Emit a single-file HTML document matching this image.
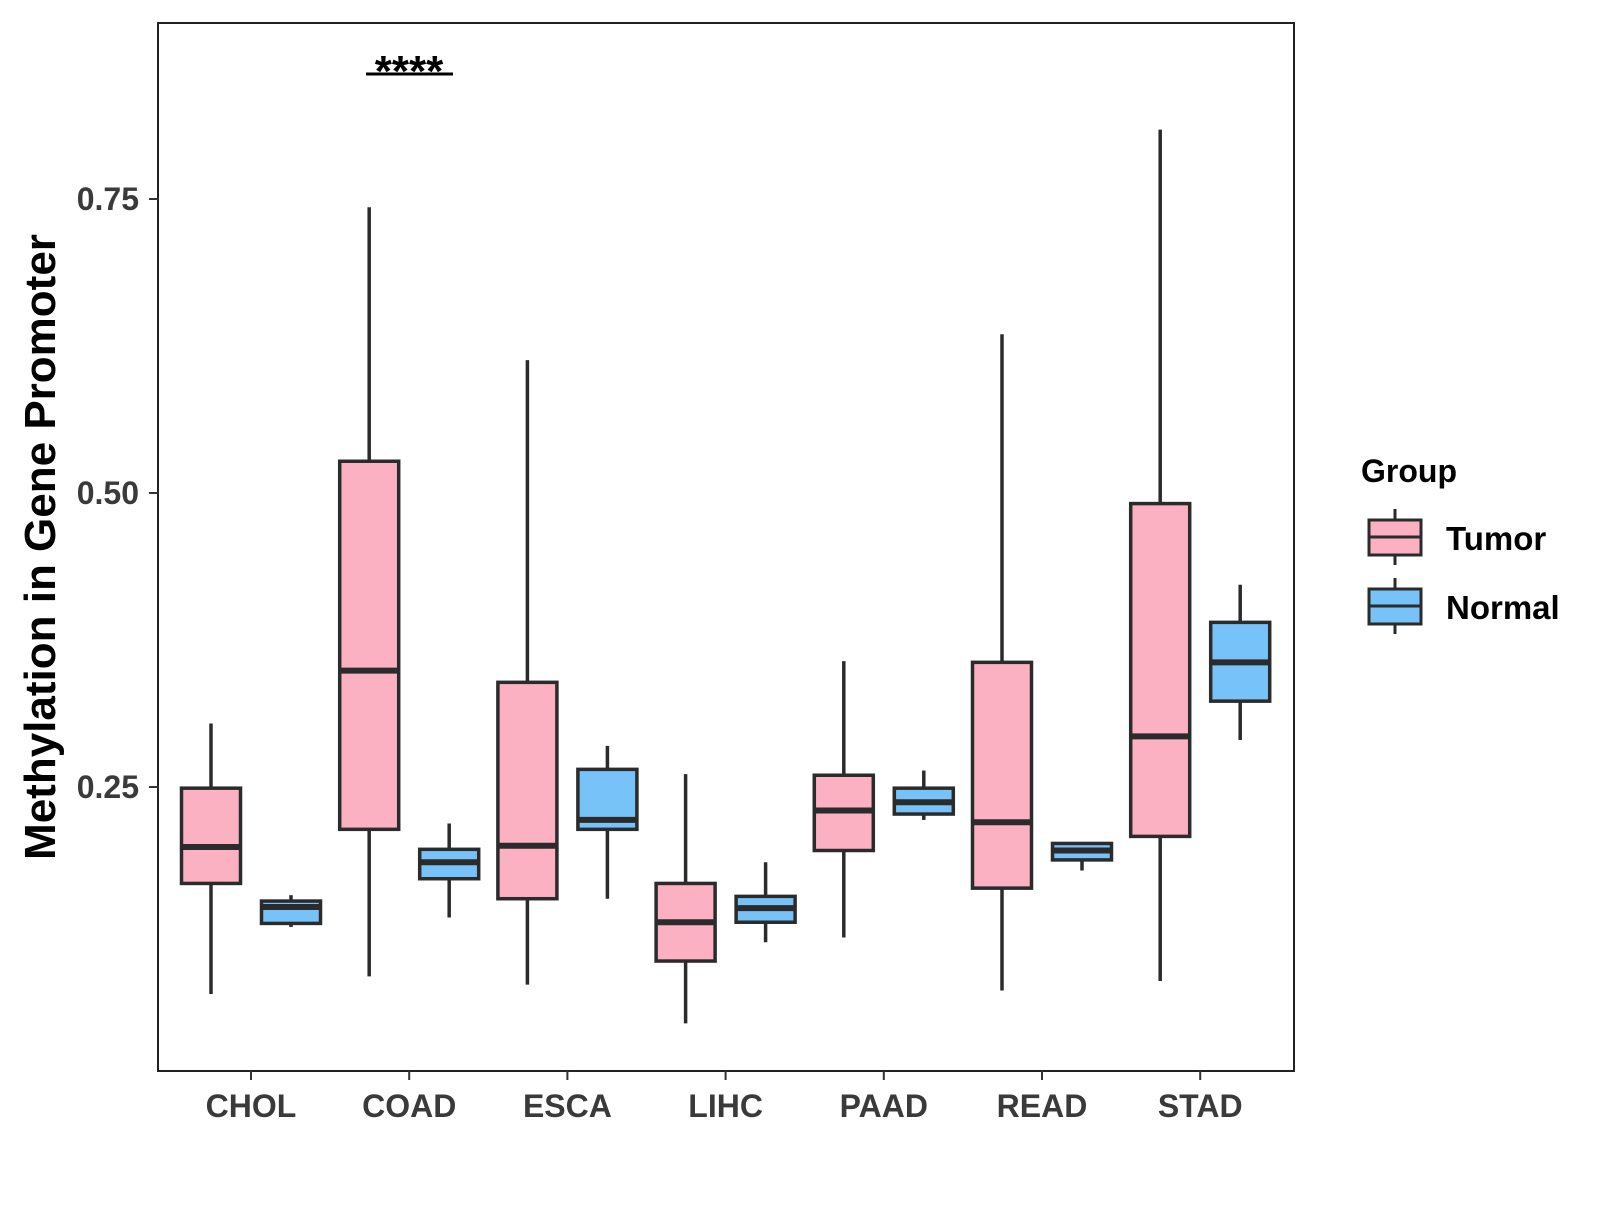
<!DOCTYPE html>
<html><head><meta charset="utf-8"><style>
body{margin:0;background:#fff}
svg text{font-family:"Liberation Sans",Arial,sans-serif;font-weight:bold}
</style></head><body>
<svg id="chart" width="1600" height="1200" xmlns="http://www.w3.org/2000/svg">
<rect x="158" y="23" width="1136" height="1048" fill="none" stroke="#222" stroke-width="2"/>
<g id="marks"></g>
<g id="axes"></g>
<text x="0" y="0" transform="translate(55,547) rotate(-90)" text-anchor="middle" font-size="44" fill="#000">Methylation in Gene Promoter</text>
<g>
<line x1="366" y1="74" x2="453" y2="74" stroke="#000" stroke-width="3"/>
<text x="409" y="86" text-anchor="middle" font-size="44" fill="#000">****</text>
</g>
<g>
<text x="1361" y="482" font-size="32" fill="#000">Group</text>
<g>
<line x1="1395" y1="509" x2="1395" y2="565" stroke="#2b2b2b" stroke-width="3"/>
<rect x="1369" y="520" width="52" height="35" fill="#fcb1c3" stroke="#2b2b2b" stroke-width="3"/>
<line x1="1369" y1="537" x2="1421" y2="537" stroke="#2b2b2b" stroke-width="3"/>
<text x="1446" y="550" font-size="33" fill="#000">Tumor</text>
</g>
<g>
<line x1="1395" y1="578" x2="1395" y2="634" stroke="#2b2b2b" stroke-width="3"/>
<rect x="1369" y="589" width="52" height="35" fill="#76c2f9" stroke="#2b2b2b" stroke-width="3"/>
<line x1="1369" y1="606" x2="1421" y2="606" stroke="#2b2b2b" stroke-width="3"/>
<text x="1446" y="619" font-size="33" fill="#000">Normal</text>
</g>
</g>
</svg>
<script>
const categories=["CHOL","COAD","ESCA","LIHC","PAAD","READ","STAD"];
// [min, q1, median, q3, max]
const tumorStats=[[0.074,0.168,0.199,0.249,0.304],[0.089,0.214,0.349,0.527,0.743],[0.082,0.155,0.200,0.339,0.613],[0.049,0.102,0.135,0.168,0.261],[0.122,0.196,0.230,0.260,0.357],[0.077,0.164,0.220,0.356,0.635],[0.085,0.208,0.293,0.491,0.809]];
const normalStats=[[0.131,0.134,0.148,0.153,0.158],[0.139,0.172,0.186,0.197,0.219],[0.155,0.214,0.222,0.265,0.285],[0.118,0.135,0.147,0.157,0.186],[0.222,0.227,0.237,0.249,0.264],[0.179,0.188,0.196,0.202,0.203],[0.290,0.323,0.356,0.390,0.422]];
const yTicks=[0.25,0.50,0.75];
const yTickLabels=["0.25","0.50","0.75"];
const NS="http://www.w3.org/2000/svg";
const yScale=v=>787-(v-0.25)*1176;
const xScale=i=>251+i*158.2;
const bw=59, off=40;
const marks=document.getElementById('marks'), axes=document.getElementById('axes');
function mk(tag,attrs,parent){const e=document.createElementNS(NS,tag);for(const k in attrs)e.setAttribute(k,attrs[k]);parent.appendChild(e);return e;}
function drawBox(s,cx,fill,name){
  const g=mk('g',{},marks);
  
  
  mk('line',{x1:cx,x2:cx,y1:yScale(s[4]),y2:yScale(s[0]),stroke:'#2b2b2b','stroke-width':3.5},g);
  mk('rect',{x:cx-bw/2,y:yScale(s[3]),width:bw,height:yScale(s[1])-yScale(s[3]),fill:fill,stroke:'#2b2b2b','stroke-width':3.5},g);
  mk('line',{x1:cx-bw/2,x2:cx+bw/2,y1:yScale(s[2]),y2:yScale(s[2]),stroke:'#2b2b2b','stroke-width':6},g);
}
categories.forEach((c,i)=>{
  drawBox(tumorStats[i],xScale(i)-off,'#fcb1c3','box-tumor-'+c.toLowerCase());
  drawBox(normalStats[i],xScale(i)+off,'#76c2f9','box-normal-'+c.toLowerCase());
  mk('line',{x1:xScale(i),x2:xScale(i),y1:1071,y2:1080,stroke:'#333','stroke-width':2},axes);
  const t=mk('text',{x:xScale(i),y:1117,'text-anchor':'middle','font-size':32,fill:'#3a3a3a'},axes);
  t.textContent=c;
  
  
});
yTicks.forEach((v,i)=>{
  mk('line',{x1:149,x2:158,y1:yScale(v),y2:yScale(v),stroke:'#333','stroke-width':2},axes);
  const t=mk('text',{x:139,y:yScale(v)+11,'text-anchor':'end','font-size':32,fill:'#3a3a3a'},axes);
  t.textContent=yTickLabels[i];
  
  
});
</script>
</body></html>
